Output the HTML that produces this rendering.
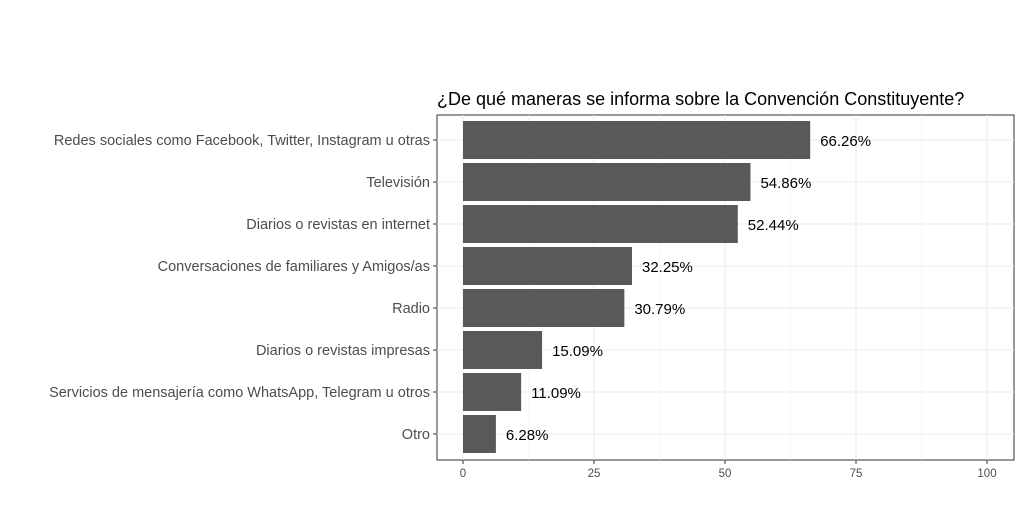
<!DOCTYPE html>
<html><head><meta charset="utf-8"><style>
body{margin:0;background:#fff;font-family:"Liberation Sans",sans-serif}
</style></head><body>
<svg id="c" width="1024" height="527" xmlns="http://www.w3.org/2000/svg" font-family="Liberation Sans, sans-serif">
<text x="437" y="105" font-size="18" fill="#000">¿De qué maneras se informa sobre la Convención Constituyente?</text>
<rect x="437" y="115" width="577" height="345" fill="#fff" stroke="#333" stroke-width="1"/>
<g id="grid"></g><g id="bars"></g><g id="axes"></g>
</svg>
<script>
const categories=["Redes sociales como Facebook, Twitter, Instagram u otras","Televisión","Diarios o revistas en internet","Conversaciones de familiares y Amigos/as","Radio","Diarios o revistas impresas","Servicios de mensajería como WhatsApp, Telegram u otros","Otro"];
const values=[66.26,54.86,52.44,32.25,30.79,15.09,11.09,6.28];
const valueLabels=["66.26%","54.86%","52.44%","32.25%","30.79%","15.09%","11.09%","6.28%"];
const ticks=[0,25,50,75,100];
const NS="http://www.w3.org/2000/svg";
const x=v=>463+v*5.24;
const y=i=>140+i*42;
function mk(t,a,p){const e=document.createElementNS(NS,t);for(const k in a)e.setAttribute(k,a[k]);p.appendChild(e);return e;}
const grid=document.getElementById('grid'),bars=document.getElementById('bars'),axes=document.getElementById('axes');
for(let k=0;k<ticks.length;k++){
 const g=mk('line',{x1:x(ticks[k]),x2:x(ticks[k]),y1:115,y2:460,stroke:'#ebebeb','stroke-width':1},grid);
 
 if(k<ticks.length-1){const m=mk('line',{x1:x((ticks[k]+ticks[k+1])/2),x2:x((ticks[k]+ticks[k+1])/2),y1:115,y2:460,stroke:'#f4f4f4','stroke-width':0.6},grid);
 }
 const t=mk('line',{x1:x(ticks[k]),x2:x(ticks[k]),y1:460,y2:464,stroke:'#333'},axes);
 
 const l=mk('text',{x:x(ticks[k]),y:477,'font-size':11.5,fill:'#4d4d4d','text-anchor':'middle'},axes);l.textContent=ticks[k];
 
}
for(let i=0;i<categories.length;i++){
 const g=mk('line',{x1:437,x2:1014,y1:y(i),y2:y(i),stroke:'#ebebeb'},grid);
 
 const b=mk('rect',{x:x(0),y:y(i)-19,width:x(values[i])-x(0),height:38,fill:'#595959'},bars);
 
 const v=mk('text',{x:x(values[i])+10,y:y(i)+6,'font-size':15,fill:'#000'},bars);v.textContent=valueLabels[i];
 
 const t=mk('line',{x1:433,x2:437,y1:y(i),y2:y(i),stroke:'#333'},axes);
 
 const l=mk('text',{x:430,y:y(i)+5,'font-size':14.5,fill:'#4d4d4d','text-anchor':'end'},axes);l.textContent=categories[i];
 
}
</script>
</body></html>
